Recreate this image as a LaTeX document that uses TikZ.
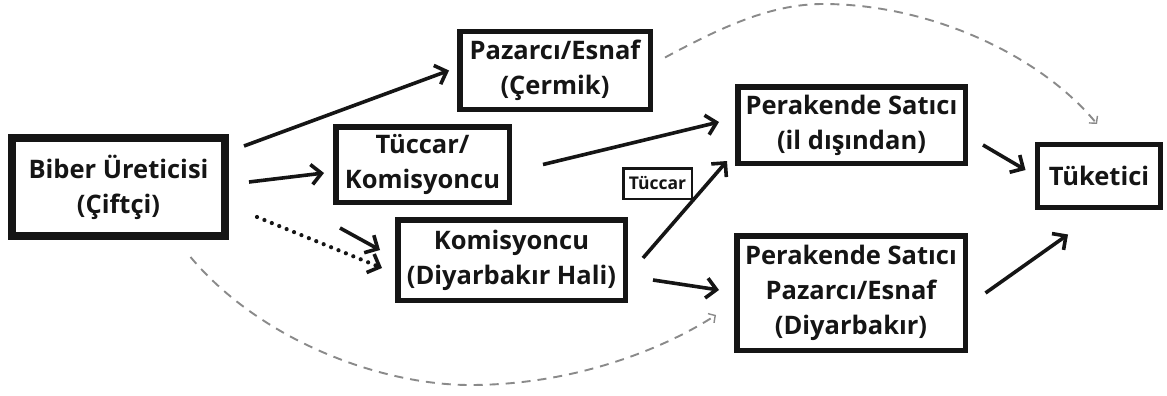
\documentclass[tikz,border=0pt]{standalone}
\usepackage{fontspec}
\setmainfont{Open Sans}
\usetikzlibrary{arrows.meta,calc}
\definecolor{ink}{HTML}{151515}
\definecolor{dashgray}{HTML}{8A8A8A}
\tikzset{
  box/.style={draw=ink, line width=5.5pt, align=center, inner sep=0pt,
    text=ink, font=\bfseries\fontsize{25.5}{35}\selectfont},
  tag/.style={draw=ink, line width=2.5pt, align=center, inner sep=0pt,
    text=ink, font=\bfseries\fontsize{17.5}{19}\selectfont},
  flow/.style={draw=ink, line width=3.6pt,
    -{Straight Barb[length=10pt,width=20pt,line width=3.6pt]}},
  dotflow/.style={draw=ink, line width=4.2pt, line cap=round,
    dash pattern=on 0pt off 8pt,
    -{Straight Barb[length=10pt,width=20pt,line width=3.6pt]}},
  sideflow/.style={draw=dashgray, line width=1.9pt, dash pattern=on 9pt off 7pt,
    -{Straight Barb[length=5pt,width=11pt,line width=1.4pt]}}
}
\begin{document}
\begin{tikzpicture}[x=1pt,y=-1pt]
  \fill[white] (0,0) rectangle (1167,396);
  \useasboundingbox (0,0) rectangle (1167,396);

  % actors of the chain
  \node[box, line width=8pt, minimum width=213pt, minimum height=98pt]
    (ure) at (118.5,187) {Biber Üreticisi\\(Çiftçi)};
  \node[box, minimum width=190.5pt, minimum height=77.5pt]
    (paz) at (555,70.5) {Pazarcı/Esnaf\\(Çermik)};
  \node[box, minimum width=173.5pt, minimum height=75.5pt]
    (tuc) at (422.5,164.5) {Tüccar/\\Komisyoncu};
  \node[box, minimum width=227.5pt, minimum height=80.5pt]
    (kom) at (511.5,260) {Komisyoncu\\(Diyarbakır Hali)};
  \node[box, minimum width=227.5pt, minimum height=76.5pt]
    (pil) at (851.5,125) {Perakende Satıcı\\(il dışından)};
  \node[box, minimum width=228.5pt, minimum height=114.5pt]
    (pdi) at (851,293) {Perakende Satıcı\\Pazarcı/Esnaf\\(Diyarbakır)};
  \node[box, line width=5pt, minimum width=123pt, minimum height=63pt]
    (tuk) at (1099,176) {Tüketici};
  \node[tag, minimum width=68.5pt, minimum height=30.5pt]
    (lbl) at (657.5,183.5) {Tüccar};

  % main flows
  \draw[flow] ($(ure.north east)+(15,12)$) -- ($(paz.west)+(-8,0)$);
  \draw[flow] ($(ure.east)+(20,-5)$) -- ($(tuc.west)+(-9,8.5)$);
  \draw[flow] ($(tuc.south west)+(7,23)$) -- ($(kom.west)+(-15,-10)$);
  \draw[dotflow] ($(ure.east)+(28,30)$) -- ($(kom.west)+(-13,8)$);
  \draw[flow] ($(tuc.east)+(31,0)$) -- ($(pil.west)+(-16,-3)$);
  \draw[flow] ($(kom.east)+(15,-2)$) -- ($(pil.south west)+(-8,-5)$);
  \draw[flow] ($(kom.east)+(25,20)$) -- ($(pdi.west)+(-15,-3)$);
  \draw[flow] ($(pil.east)+(15,20)$) -- ($(tuk.west)+(-9.5,-6)$);
  \draw[flow] ($(pdi.east)+(17.5,0)$) -- ($(tuk.south)+(-31,24.5)$);

  % direct sales, drawn dashed
  \coordinate (top) at (823,4);
  \coordinate (bot) at (470,385);
  \draw[sideflow] ($(paz.east)+(12,-13)$) .. controls (720,28) and (770,4) .. (top)
    .. controls (930,4) and (1040,55) .. ($(tuk.north)+(-2,-18)$);
  \draw[sideflow] ($(ure.south)+(72,17)$) .. controls (260,340) and (380,385) .. (bot)
    .. controls (580,385) and (670,345) .. ($(pdi.west)+(-18,22)$);
\end{tikzpicture}
\end{document}
